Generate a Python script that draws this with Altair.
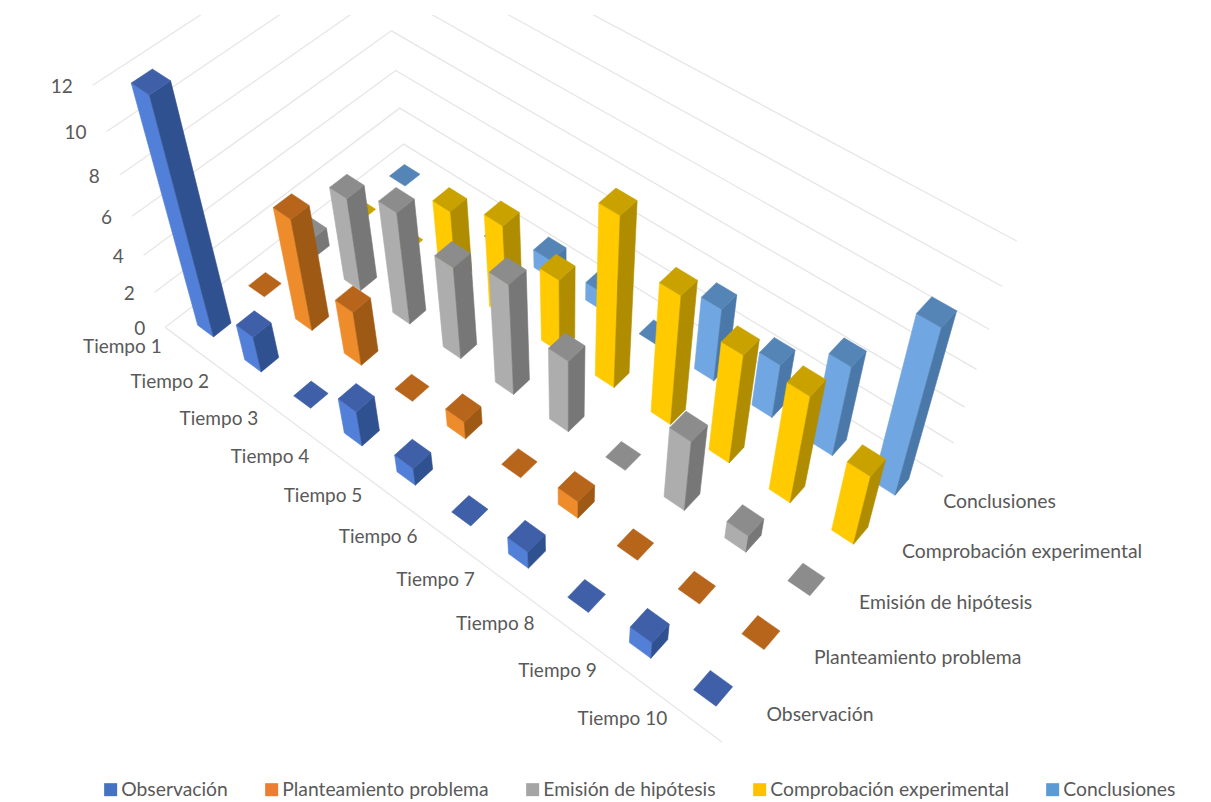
import altair as alt
import numpy as np
import pandas as pd

# Chart values, one list per series across Tiempo 1..10
tiempos = [f"Tiempo {i}" for i in range(1, 11)]
observacion = [12, 2, 0, 2, 1, 0, 1, 0, 1, 0]
planteamiento = [0, 6, 3, 0, 1, 0, 1, 0, 0, 0]
emision = [1, 5, 6, 5, 6, 4, 0, 4, 1, 0]
comprobacion = [0, 0, 4, 5, 4, 9, 7, 6, 6, 4]
conclusiones = [0, 0, 0, 1, 1, 0, 4, 3, 5, 9]
series_names = ["Observación", "Planteamiento problema", "Emisión de hipótesis",
                "Comprobación experimental", "Conclusiones"]
series_values = [observacion, planteamiento, emision, comprobacion, conclusiones]
z_ticks = [0, 2, 4, 6, 8, 10, 12]

# Face colours per series: top, lit side, shaded side, and the legend swatch
top_colors = ["#3F5FA8", "#B8651C", "#8C8C8C", "#C9A200", "#5585B6"]
lit_colors = ["#5280D8", "#EE8C2B", "#ADADAD", "#FFCA00", "#70A6E2"]
dark_colors = ["#30518F", "#9E5A14", "#777777", "#B08D00", "#4A78A8"]
legend_colors = ["#4472C4", "#ED7D31", "#A5A5A5", "#FFC000", "#5B9BD5"]

TEXT = "#595959"
FONT = "Lato"

# Camera: world (tiempo, serie, valor) to page pixels, solved from box-corner references
refs = [
    ((0, 0, 0), (165, 327)), ((10, 0, 0), (722, 742)),
    ((0, 5, 0), (404, 144)), ((10, 5, 0), (943, 477)),
    ((0, 0, 12), (93, 85)), ((10, 5, 12), (1017, 241)),
    ((0, 5, 2), (400, 108)), ((0, 5, 6), (391, 31)),
    ((0, 0, 6), (132, 217)), ((10, 5, 6), (976, 369)),
]
rows, rhs = [], []
for (X, Y, Z), (u, v) in refs:
    rows.append([X, Y, Z, 1, 0, 0, 0, 0, -u * X, -u * Y, -u * Z])
    rhs.append(u)
    rows.append([0, 0, 0, 0, X, Y, Z, 1, -v * X, -v * Y, -v * Z])
    rhs.append(v)
cam = np.linalg.lstsq(np.array(rows, float), np.array(rhs, float), rcond=None)[0]


def project(X, Y, Z):
    w = cam[8] * X + cam[9] * Y + cam[10] * Z + 1
    return ((cam[0] * X + cam[1] * Y + cam[2] * Z + cam[3]) / w,
            (cam[4] * X + cam[5] * Y + cam[6] * Z + cam[7]) / w)


# Bar footprint inside its floor cell
X0, X1 = 0.33, 0.67
Y0, Y1 = 0.33, 0.67

polys = []


def add_poly(corners, color):
    pid = add_poly.n
    add_poly.n += 1
    for k, c in enumerate(list(corners) + [corners[0]]):
        px, py = project(*c)
        polys.append({"pid": pid, "k": k, "px": px, "py": py, "face": color})


add_poly.n = 0

# Back rows first, then front to right along each row, so nearer bars overlap farther ones
for j in range(4, -1, -1):
    for i in range(10):
        h = series_values[j][i]
        x0, x1, y0, y1 = i + X0, i + X1, j + Y0, j + Y1
        if h > 0:
            add_poly([(x0, y0, 0), (x1, y0, 0), (x1, y0, h), (x0, y0, h)], lit_colors[j])
            add_poly([(x1, y0, 0), (x1, y1, 0), (x1, y1, h), (x1, y0, h)], dark_colors[j])
        add_poly([(x0, y0, h), (x1, y0, h), (x1, y1, h), (x0, y1, h)], top_colors[j])

grid = []
gid = 0
for z in z_ticks:
    for k, c in enumerate([(0, 0, z), (0, 5, z), (10, 5, z)]):
        px, py = project(*c)
        grid.append({"gid": gid, "k": k, "px": px, "py": py})
    gid += 1
for k, c in enumerate([(0, 0, 0), (10, 0, 0)]):
    px, py = project(*c)
    grid.append({"gid": gid, "k": k, "px": px, "py": py})

labels = []
for i, t in enumerate(tiempos):
    px, py = project(i + 0.5, 0, 0)
    labels.append({"t": t, "px": px - 66, "py": py + 2, "a": "center"})
for j, s in enumerate(series_names):
    px, py = project(10, j + 0.5, 0)
    labels.append({"t": s, "px": px + 20, "py": py + 2, "a": "left"})
for z in z_ticks:
    px, py = project(0, 0, z)
    labels.append({"t": str(z), "px": px - 20, "py": py + 2, "a": "right"})

x_enc = alt.X("px:Q", scale=alt.Scale(domain=[0, 1211], nice=False, zero=False), axis=None)
y_enc = alt.Y("py:Q", scale=alt.Scale(domain=[802, 15], nice=False, zero=False), axis=None)

grid_layer = alt.Chart(pd.DataFrame(grid)).mark_line(
    color="#E6E6E6", strokeWidth=1.3, clip=True
).encode(x=x_enc, y=y_enc, detail="gid:N", order="k:Q")

bar_layer = alt.Chart(pd.DataFrame(polys)).mark_line(strokeWidth=0.6).encode(
    x=x_enc, y=y_enc,
    detail="pid:Q",
    order="k:Q",
    fill=alt.Fill("face:N", scale=None),
    stroke=alt.Stroke("face:N", scale=None),
)

label_df = pd.DataFrame(labels)
text_sizes = {"center": 19, "left": 19.4, "right": 19}
text_layers = [
    alt.Chart(label_df[label_df.a == a]).mark_text(
        align=a, baseline="middle", font=FONT, fontSize=size, color=TEXT
    ).encode(x=x_enc, y=y_enc, text="t:N")
    for a, size in text_sizes.items()
]

legend_layer = alt.Chart(pd.DataFrame({"serie": series_names})).mark_square(opacity=0).encode(
    color=alt.Color(
        "serie:N",
        scale=alt.Scale(domain=series_names, range=legend_colors),
        legend=alt.Legend(
            orient="none", legendX=101, legendY=765, direction="horizontal", columns=5,
            title=None, symbolType="square", symbolSize=169, symbolOpacity=1,
            symbolStrokeWidth=0, labelFont=FONT, labelFontSize=19.3, labelColor=TEXT,
            labelOffset=1, labelLimit=400, columnPadding=34, padding=0,
        ),
    )
)

chart = alt.layer(grid_layer, bar_layer, *text_layers, legend_layer).properties(
    width=1211, height=787,
    padding={"left": 0, "right": 0, "top": 15, "bottom": 0},
    autosize=alt.AutoSizeParams(type="none"),
    background="white",
).configure_view(stroke=None)

chart.save("out.html", embed_options={"renderer": "svg", "actions": False})
